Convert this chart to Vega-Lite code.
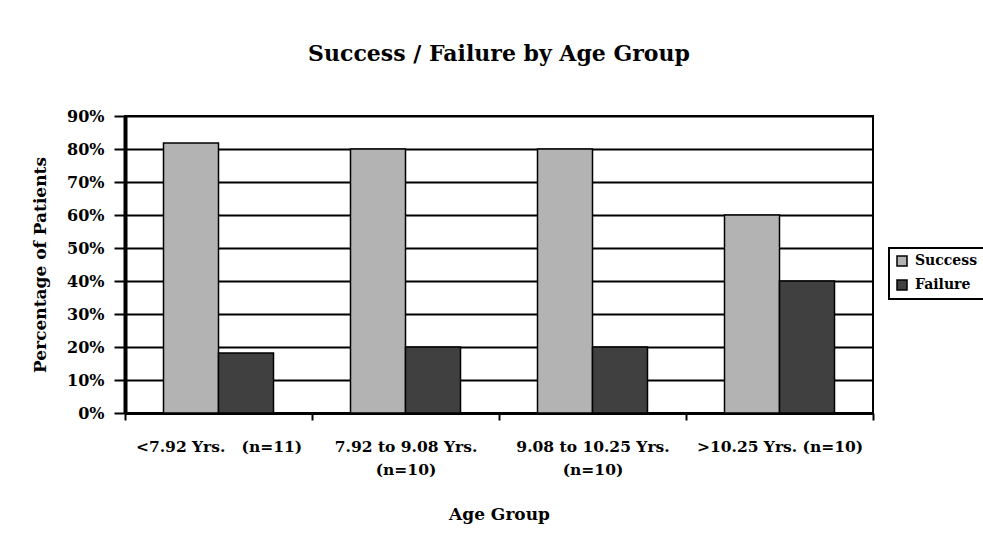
{
  "$schema": "https://vega.github.io/schema/vega-lite/v6.json",
  "autosize": {"type": "none"},
  "width": 748,
  "height": 297,
  "padding": {"left": 125, "top": 116, "right": 110, "bottom": 127},
  "background": "white",
  "title": {
    "text": "Success / Failure by Age Group",
    "font": "DejaVu Serif",
    "fontSize": 22,
    "fontWeight": "bold",
    "color": "black",
    "anchor": "middle",
    "offset": 42
  },
  "config": {
    "view": {"stroke": "black", "strokeWidth": 2},
    "axis": {"labelFont": "DejaVu Serif", "titleFont": "DejaVu Serif", "labelColor": "black", "titleColor": "black"}
  },
  "data": {
    "values": [
      {"group": "<7.92 Yrs.\u00a0\u00a0\u00a0(n=11)", "series": "Success", "value": 0.818},
      {"group": "<7.92 Yrs.\u00a0\u00a0\u00a0(n=11)", "series": "Failure", "value": 0.182},
      {"group": "7.92 to 9.08 Yrs.|(n=10)", "series": "Success", "value": 0.8},
      {"group": "7.92 to 9.08 Yrs.|(n=10)", "series": "Failure", "value": 0.2},
      {"group": "9.08 to 10.25 Yrs.|(n=10)", "series": "Success", "value": 0.8},
      {"group": "9.08 to 10.25 Yrs.|(n=10)", "series": "Failure", "value": 0.2},
      {"group": ">10.25 Yrs. (n=10)", "series": "Success", "value": 0.6},
      {"group": ">10.25 Yrs. (n=10)", "series": "Failure", "value": 0.4}
    ]
  },
  "mark": {"type": "bar", "stroke": "black", "strokeWidth": 1.5},
  "encoding": {
    "x": {
      "field": "group",
      "type": "nominal",
      "sort": ["<7.92 Yrs.\u00a0\u00a0\u00a0(n=11)", "7.92 to 9.08 Yrs.|(n=10)", "9.08 to 10.25 Yrs.|(n=10)", ">10.25 Yrs. (n=10)"],
      "scale": {"paddingInner": 0, "paddingOuter": 0},
      "axis": {
        "title": "Age Group",
        "labelExpr": "split(datum.label, '|')",
        "labelAngle": 0,
        "labelFontSize": 15.5,
        "labelFontWeight": "bold",
        "labelLineHeight": 23,
        "labelPadding": 19,
        "labelBaseline": "top",
        "labelLimit": 0,
        "labelOverlap": false,
        "tickBand": "extent",
        "tickColor": "black",
        "tickWidth": 2,
        "tickSize": 7,
        "domainColor": "black",
        "domainWidth": 3,
        "titleFontSize": 17,
        "titleFontWeight": "bold",
        "titlePadding": 29,
        "grid": false
      }
    },
    "xOffset": {
      "field": "series",
      "type": "nominal",
      "sort": ["Success", "Failure"],
      "scale": {"paddingInner": 0, "paddingOuter": 0.7}
    },
    "y": {
      "field": "value",
      "type": "quantitative",
      "scale": {"domain": [0, 0.9], "nice": false},
      "axis": {
        "title": "Percentage of Patients",
        "format": ".0%",
        "values": [0, 0.1, 0.2, 0.3, 0.4, 0.5, 0.6, 0.7, 0.8, 0.9],
        "labelFontSize": 16,
        "labelFontWeight": "bold",
        "labelPadding": 10,
        "tickSize": 11,
        "tickColor": "black",
        "tickWidth": 2,
        "domainColor": "black",
        "domainWidth": 4,
        "grid": true,
        "gridColor": "black",
        "gridWidth": 2,
        "gridOpacity": 1,
        "titleFontSize": 17,
        "titleFontWeight": "bold",
        "titlePadding": 17
      }
    },
    "color": {
      "field": "series",
      "type": "nominal",
      "sort": ["Success", "Failure"],
      "scale": {"domain": ["Success", "Failure"], "range": ["#b3b3b3", "#404040"]},
      "legend": {
        "title": null,
        "orient": "none",
        "legendX": 764,
        "legendY": 132,
        "symbolType": "square",
        "symbolSize": 100,
        "symbolStrokeColor": "black",
        "symbolStrokeWidth": 1.5,
        "symbolOpacity": 1,
        "labelFont": "DejaVu Serif",
        "labelFontSize": 14,
        "labelFontWeight": "bold",
        "labelColor": "black",
        "labelOffset": 6,
        "labelLimit": 0,
        "rowPadding": 8,
        "padding": 6,
        "strokeColor": "black",
        "fillColor": "white",
        "encode": {"legend": {"update": {"strokeWidth": {"value": 2}}}}
      }
    }
  }
}
